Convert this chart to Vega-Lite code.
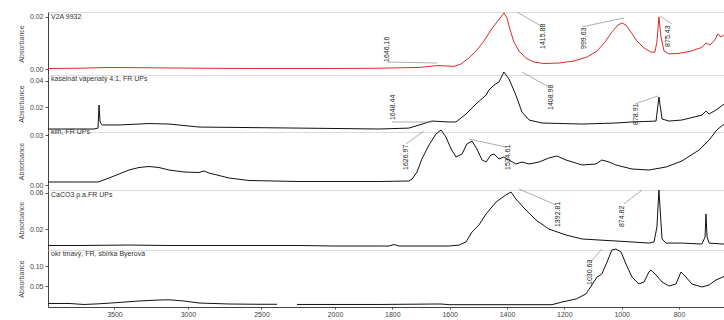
{
  "$schema": "https://vega.github.io/schema/vega-lite/v6.json",
  "padding": {"left": 16, "top": 10, "right": 0, "bottom": 0},
  "background": "white",
  "bounds": "flush",
  "spacing": 0,
  "datasets": {
    "s1": [
      {"wn": 3950, "a": 0.0002}, {"wn": 3741, "a": 0.0003}, {"wn": 3537, "a": 0.0006}, {"wn": 3333, "a": 0.0005},
      {"wn": 3129, "a": 0.0004}, {"wn": 2925, "a": 0.0003}, {"wn": 2585, "a": 0.0002}, {"wn": 2245, "a": 0.0002},
      {"wn": 2000, "a": 0.0002}, {"wn": 1847, "a": 0.0003}, {"wn": 1707, "a": 0.0006}, {"wn": 1644, "a": 0.0013},
      {"wn": 1613, "a": 0.0012}, {"wn": 1585, "a": 0.0010}, {"wn": 1561, "a": 0.0019}, {"wn": 1533, "a": 0.0042},
      {"wn": 1505, "a": 0.0073}, {"wn": 1480, "a": 0.0108}, {"wn": 1456, "a": 0.0150}, {"wn": 1435, "a": 0.0181},
      {"wn": 1421, "a": 0.0200}, {"wn": 1411, "a": 0.0215}, {"wn": 1400, "a": 0.0196}, {"wn": 1390, "a": 0.0154},
      {"wn": 1376, "a": 0.0104}, {"wn": 1358, "a": 0.0069}, {"wn": 1334, "a": 0.0042}, {"wn": 1306, "a": 0.0027},
      {"wn": 1271, "a": 0.0021}, {"wn": 1219, "a": 0.0023}, {"wn": 1166, "a": 0.0031}, {"wn": 1121, "a": 0.0046},
      {"wn": 1086, "a": 0.0069}, {"wn": 1058, "a": 0.0104}, {"wn": 1034, "a": 0.0142}, {"wn": 1013, "a": 0.0169},
      {"wn": 999, "a": 0.0177}, {"wn": 985, "a": 0.0169}, {"wn": 968, "a": 0.0142}, {"wn": 947, "a": 0.0108},
      {"wn": 922, "a": 0.0081}, {"wn": 898, "a": 0.0065}, {"wn": 884, "a": 0.0065}, {"wn": 877, "a": 0.0104},
      {"wn": 870, "a": 0.0200}, {"wn": 863, "a": 0.0123}, {"wn": 852, "a": 0.0069}, {"wn": 835, "a": 0.0058},
      {"wn": 800, "a": 0.0060}, {"wn": 758, "a": 0.0069}, {"wn": 720, "a": 0.0083}, {"wn": 706, "a": 0.0100},
      {"wn": 692, "a": 0.0092}, {"wn": 675, "a": 0.0112}, {"wn": 664, "a": 0.0135}, {"wn": 654, "a": 0.0123},
      {"wn": 643, "a": 0.0131}
    ],
    "s2": [
      {"wn": 3950, "a": 0.0031}, {"wn": 3741, "a": 0.0031}, {"wn": 3639, "a": 0.0031}, {"wn": 3612, "a": 0.0038},
      {"wn": 3605, "a": 0.0215}, {"wn": 3598, "a": 0.0085}, {"wn": 3584, "a": 0.0062}, {"wn": 3469, "a": 0.0062},
      {"wn": 3265, "a": 0.0073}, {"wn": 3129, "a": 0.0069}, {"wn": 2993, "a": 0.0054}, {"wn": 2925, "a": 0.0046},
      {"wn": 2585, "a": 0.0042}, {"wn": 2245, "a": 0.0038}, {"wn": 2000, "a": 0.0035}, {"wn": 1847, "a": 0.0031},
      {"wn": 1742, "a": 0.0038}, {"wn": 1662, "a": 0.0092}, {"wn": 1602, "a": 0.0085}, {"wn": 1578, "a": 0.0085},
      {"wn": 1543, "a": 0.0146}, {"wn": 1508, "a": 0.0223}, {"wn": 1473, "a": 0.0292}, {"wn": 1463, "a": 0.0331},
      {"wn": 1445, "a": 0.0369}, {"wn": 1428, "a": 0.0392}, {"wn": 1411, "a": 0.0469}, {"wn": 1393, "a": 0.0415},
      {"wn": 1369, "a": 0.0292}, {"wn": 1348, "a": 0.0162}, {"wn": 1323, "a": 0.0100}, {"wn": 1278, "a": 0.0077},
      {"wn": 1138, "a": 0.0069}, {"wn": 1020, "a": 0.0077}, {"wn": 964, "a": 0.0085}, {"wn": 880, "a": 0.0092},
      {"wn": 870, "a": 0.0277}, {"wn": 859, "a": 0.0108}, {"wn": 835, "a": 0.0092}, {"wn": 790, "a": 0.0100},
      {"wn": 720, "a": 0.0138}, {"wn": 706, "a": 0.0169}, {"wn": 695, "a": 0.0146}, {"wn": 671, "a": 0.0177},
      {"wn": 647, "a": 0.0215}, {"wn": 643, "a": 0.0222}
    ],
    "s3": [
      {"wn": 3950, "a": 0.0018}, {"wn": 3741, "a": 0.0018}, {"wn": 3612, "a": 0.0018}, {"wn": 3537, "a": 0.0042},
      {"wn": 3469, "a": 0.0066}, {"wn": 3401, "a": 0.0090}, {"wn": 3333, "a": 0.0105}, {"wn": 3265, "a": 0.0111},
      {"wn": 3197, "a": 0.0105}, {"wn": 3129, "a": 0.0090}, {"wn": 3027, "a": 0.0078}, {"wn": 2925, "a": 0.0075},
      {"wn": 2891, "a": 0.0084}, {"wn": 2857, "a": 0.0072}, {"wn": 2721, "a": 0.0042}, {"wn": 2585, "a": 0.0027},
      {"wn": 2245, "a": 0.0021}, {"wn": 2000, "a": 0.0021}, {"wn": 1847, "a": 0.0021}, {"wn": 1742, "a": 0.0024},
      {"wn": 1731, "a": 0.0036}, {"wn": 1714, "a": 0.0078}, {"wn": 1697, "a": 0.0156}, {"wn": 1672, "a": 0.0240},
      {"wn": 1648, "a": 0.0306}, {"wn": 1630, "a": 0.0330}, {"wn": 1613, "a": 0.0288}, {"wn": 1595, "a": 0.0216},
      {"wn": 1578, "a": 0.0168}, {"wn": 1557, "a": 0.0186}, {"wn": 1540, "a": 0.0246}, {"wn": 1522, "a": 0.0264},
      {"wn": 1505, "a": 0.0216}, {"wn": 1487, "a": 0.0150}, {"wn": 1473, "a": 0.0138}, {"wn": 1456, "a": 0.0180},
      {"wn": 1445, "a": 0.0186}, {"wn": 1428, "a": 0.0156}, {"wn": 1411, "a": 0.0168}, {"wn": 1393, "a": 0.0150},
      {"wn": 1369, "a": 0.0126}, {"wn": 1348, "a": 0.0138}, {"wn": 1323, "a": 0.0126}, {"wn": 1288, "a": 0.0138},
      {"wn": 1254, "a": 0.0162}, {"wn": 1226, "a": 0.0174}, {"wn": 1194, "a": 0.0150}, {"wn": 1138, "a": 0.0120},
      {"wn": 1090, "a": 0.0126}, {"wn": 1069, "a": 0.0150}, {"wn": 1044, "a": 0.0138}, {"wn": 1020, "a": 0.0120},
      {"wn": 964, "a": 0.0096}, {"wn": 905, "a": 0.0090}, {"wn": 845, "a": 0.0108}, {"wn": 790, "a": 0.0144},
      {"wn": 730, "a": 0.0210}, {"wn": 695, "a": 0.0270}, {"wn": 668, "a": 0.0330}, {"wn": 647, "a": 0.0360},
      {"wn": 643, "a": 0.0364}
    ],
    "s4": [
      {"wn": 3950, "a": 0.0017}, {"wn": 3741, "a": 0.0017}, {"wn": 3401, "a": 0.0022}, {"wn": 3129, "a": 0.0017},
      {"wn": 2925, "a": 0.0017}, {"wn": 2585, "a": 0.0017}, {"wn": 2245, "a": 0.0017}, {"wn": 2000, "a": 0.0011},
      {"wn": 1847, "a": 0.0011}, {"wn": 1812, "a": 0.0011}, {"wn": 1794, "a": 0.0028}, {"wn": 1777, "a": 0.0011},
      {"wn": 1602, "a": 0.0011}, {"wn": 1567, "a": 0.0022}, {"wn": 1543, "a": 0.0056}, {"wn": 1522, "a": 0.0167},
      {"wn": 1498, "a": 0.0244}, {"wn": 1473, "a": 0.0367}, {"wn": 1438, "a": 0.0500}, {"wn": 1404, "a": 0.0578},
      {"wn": 1386, "a": 0.0611}, {"wn": 1369, "a": 0.0533}, {"wn": 1334, "a": 0.0411}, {"wn": 1299, "a": 0.0300},
      {"wn": 1254, "a": 0.0200}, {"wn": 1194, "a": 0.0133}, {"wn": 1138, "a": 0.0089}, {"wn": 1079, "a": 0.0078},
      {"wn": 1020, "a": 0.0067}, {"wn": 964, "a": 0.0056}, {"wn": 905, "a": 0.0044}, {"wn": 887, "a": 0.0056},
      {"wn": 877, "a": 0.0222}, {"wn": 870, "a": 0.0633}, {"wn": 863, "a": 0.0278}, {"wn": 859, "a": 0.0089},
      {"wn": 845, "a": 0.0044}, {"wn": 790, "a": 0.0044}, {"wn": 720, "a": 0.0033}, {"wn": 709, "a": 0.0111},
      {"wn": 706, "a": 0.0367}, {"wn": 702, "a": 0.0111}, {"wn": 695, "a": 0.0044}, {"wn": 647, "a": 0.0033},
      {"wn": 643, "a": 0.0033}
    ],
    "s5": [
      {"wn": 3950, "a": 0.0063, "seg": "a"}, {"wn": 3809, "a": 0.0063, "seg": "a"}, {"wn": 3707, "a": 0.0038, "seg": "a"},
      {"wn": 3605, "a": 0.0055, "seg": "a"}, {"wn": 3469, "a": 0.0088, "seg": "a"}, {"wn": 3333, "a": 0.0125, "seg": "a"},
      {"wn": 3197, "a": 0.0150, "seg": "a"}, {"wn": 3129, "a": 0.0155, "seg": "a"}, {"wn": 3027, "a": 0.0125, "seg": "a"},
      {"wn": 2925, "a": 0.0075, "seg": "a"}, {"wn": 2721, "a": 0.0050, "seg": "a"}, {"wn": 2517, "a": 0.0043, "seg": "a"},
      {"wn": 2394, "a": 0.0043, "seg": "a"},
      {"wn": 2258, "a": 0.0038, "seg": "b"}, {"wn": 2000, "a": 0.0038, "seg": "b"}, {"wn": 1847, "a": 0.0038, "seg": "b"},
      {"wn": 1648, "a": 0.0050, "seg": "b"}, {"wn": 1630, "a": 0.0050, "seg": "b"}, {"wn": 1602, "a": 0.0033, "seg": "b"},
      {"wn": 1400, "a": 0.0033, "seg": "b"}, {"wn": 1243, "a": 0.0033, "seg": "b"}, {"wn": 1208, "a": 0.0100, "seg": "b"},
      {"wn": 1159, "a": 0.0175, "seg": "b"}, {"wn": 1125, "a": 0.0300, "seg": "b"}, {"wn": 1104, "a": 0.0525, "seg": "b"},
      {"wn": 1086, "a": 0.0725, "seg": "b"}, {"wn": 1069, "a": 0.0800, "seg": "b"}, {"wn": 1051, "a": 0.1100, "seg": "b"},
      {"wn": 1034, "a": 0.1400, "seg": "b"}, {"wn": 1020, "a": 0.1425, "seg": "b"}, {"wn": 1002, "a": 0.1350, "seg": "b"},
      {"wn": 985, "a": 0.1050, "seg": "b"}, {"wn": 964, "a": 0.0725, "seg": "b"}, {"wn": 940, "a": 0.0550, "seg": "b"},
      {"wn": 922, "a": 0.0600, "seg": "b"}, {"wn": 905, "a": 0.0850, "seg": "b"}, {"wn": 898, "a": 0.0900, "seg": "b"},
      {"wn": 880, "a": 0.0775, "seg": "b"}, {"wn": 859, "a": 0.0600, "seg": "b"}, {"wn": 835, "a": 0.0500, "seg": "b"},
      {"wn": 811, "a": 0.0550, "seg": "b"}, {"wn": 793, "a": 0.0850, "seg": "b"}, {"wn": 776, "a": 0.0725, "seg": "b"},
      {"wn": 755, "a": 0.0550, "seg": "b"}, {"wn": 720, "a": 0.0475, "seg": "b"}, {"wn": 695, "a": 0.0525, "seg": "b"},
      {"wn": 671, "a": 0.0650, "seg": "b"}, {"wn": 647, "a": 0.0725, "seg": "b"}, {"wn": 643, "a": 0.0735, "seg": "b"}
    ],
    "ann": [
      {"p": 1, "label": "1646.16", "tx": 1819, "ty": 0.0027, "x1": 1819, "y1": 0.0027, "x2": 1644, "y2": 0.0023},
      {"p": 1, "label": "1415.88", "tx": 1274, "ty": 0.0077, "x1": 1365, "y1": 0.0219, "x2": 1281, "y2": 0.0165},
      {"p": 1, "label": "999.63", "tx": 1131, "ty": 0.0077, "x1": 1138, "y1": 0.0162, "x2": 992, "y2": 0.0196},
      {"p": 1, "label": "875.43", "tx": 838, "ty": 0.0085, "x1": 866, "y1": 0.0204, "x2": 825, "y2": 0.0173},
      {"p": 2, "label": "1648.44", "tx": 1798, "ty": 0.0100, "x1": 1801, "y1": 0.0085, "x2": 1662, "y2": 0.0085},
      {"p": 2, "label": "1408.98", "tx": 1247, "ty": 0.0177, "x1": 1348, "y1": 0.0469, "x2": 1254, "y2": 0.0354},
      {"p": 2, "label": "878.91", "tx": 950, "ty": 0.0062, "x1": 954, "y1": 0.0223, "x2": 873, "y2": 0.0285},
      {"p": 3, "label": "1626.97", "tx": 1752, "ty": 0.0090, "x1": 1752, "y1": 0.0246, "x2": 1690, "y2": 0.0324},
      {"p": 3, "label": "1534.61", "tx": 1397, "ty": 0.0090, "x1": 1533, "y1": 0.0276, "x2": 1404, "y2": 0.0228},
      {"p": 4, "label": "1392.81", "tx": 1222, "ty": 0.0222, "x1": 1358, "y1": 0.0644, "x2": 1229, "y2": 0.0467},
      {"p": 4, "label": "874.82", "tx": 999, "ty": 0.0222, "x1": 992, "y1": 0.0478, "x2": 929, "y2": 0.0633},
      {"p": 5, "label": "1030.63", "tx": 1111, "ty": 0.0525, "x1": 1114, "y1": 0.105, "x2": 1069, "y2": 0.1425}
    ]
  },
  "vconcat": [
    {
      "width": 676, "height": 63,
      "title": {"text": "V2A 9932", "offset": -9},
      "layer": [
        {"data": {"name": "s1"}, "mark": {"type": "line", "color": "#dd2a2a", "strokeWidth": 1},
         "encoding": {
           "x": {"field": "wn", "type": "quantitative", "scale": {"domain": [3952, 2000, 643], "range": [0, 287, 676], "nice": false, "zero": false}, "axis": null},
           "y": {"field": "a", "type": "quantitative", "scale": {"domain": [-0.0023, 0.0219], "nice": false, "zero": false}, "axis": {"title": "Absorbance", "values": [0, 0.01, 0.02], "format": ".2f"}}}},
        {"data": {"name": "ann"}, "transform": [{"filter": "datum.p == 1"}], "mark": {"type": "rule", "color": "#8a8a8a", "strokeWidth": 0.7},
         "encoding": {"x": {"field": "x1", "type": "quantitative"}, "x2": {"field": "x2"}, "y": {"field": "y1", "type": "quantitative"}, "y2": {"field": "y2"}}},
        {"data": {"name": "ann"}, "transform": [{"filter": "datum.p == 1"}], "mark": {"type": "text", "angle": 270, "align": "left", "baseline": "middle", "fontSize": 7, "color": "#222"},
         "encoding": {"x": {"field": "tx", "type": "quantitative"}, "y": {"field": "ty", "type": "quantitative"}, "text": {"field": "label"}}}
      ]
    },
    {
      "width": 676, "height": 57,
      "title": {"text": "kaseinát vápenatý 4:1, FR UPs", "offset": -12},
      "layer": [
        {"data": {"name": "s2"}, "mark": {"type": "line", "color": "#111", "strokeWidth": 1},
         "encoding": {
           "x": {"field": "wn", "type": "quantitative", "scale": {"domain": [3952, 2000, 643], "range": [0, 287, 676], "nice": false, "zero": false}, "axis": null},
           "y": {"field": "a", "type": "quantitative", "scale": {"domain": [0.0008, 0.0446], "nice": false, "zero": false}, "axis": {"title": "Absorbance", "values": [0.02, 0.04], "format": ".2f"}}}},
        {"data": {"name": "ann"}, "transform": [{"filter": "datum.p == 2"}], "mark": {"type": "rule", "color": "#8a8a8a", "strokeWidth": 0.7},
         "encoding": {"x": {"field": "x1", "type": "quantitative"}, "x2": {"field": "x2"}, "y": {"field": "y1", "type": "quantitative"}, "y2": {"field": "y2"}}},
        {"data": {"name": "ann"}, "transform": [{"filter": "datum.p == 2"}], "mark": {"type": "text", "angle": 270, "align": "left", "baseline": "middle", "fontSize": 7, "color": "#222"},
         "encoding": {"x": {"field": "tx", "type": "quantitative"}, "y": {"field": "ty", "type": "quantitative"}, "text": {"field": "label"}}}
      ]
    },
    {
      "width": 676, "height": 58,
      "title": {"text": "klih, FR UPs", "offset": -13},
      "layer": [
        {"data": {"name": "s3"}, "mark": {"type": "line", "color": "#111", "strokeWidth": 1},
         "encoding": {
           "x": {"field": "wn", "type": "quantitative", "scale": {"domain": [3952, 2000, 643], "range": [0, 287, 676], "nice": false, "zero": false}, "axis": null},
           "y": {"field": "a", "type": "quantitative", "scale": {"domain": [-0.003, 0.0318], "nice": false, "zero": false}, "axis": {"title": "Absorbance", "values": [0, 0.01, 0.02, 0.03], "format": ".2f"}}}},
        {"data": {"name": "ann"}, "transform": [{"filter": "datum.p == 3"}], "mark": {"type": "rule", "color": "#8a8a8a", "strokeWidth": 0.7},
         "encoding": {"x": {"field": "x1", "type": "quantitative"}, "x2": {"field": "x2"}, "y": {"field": "y1", "type": "quantitative"}, "y2": {"field": "y2"}}},
        {"data": {"name": "ann"}, "transform": [{"filter": "datum.p == 3"}], "mark": {"type": "text", "angle": 270, "align": "left", "baseline": "middle", "fontSize": 7, "color": "#222"},
         "encoding": {"x": {"field": "tx", "type": "quantitative"}, "y": {"field": "ty", "type": "quantitative"}, "text": {"field": "label"}}}
      ]
    },
    {
      "width": 676, "height": 60,
      "title": {"text": "CaCO3 p.a.FR UPs", "offset": -10},
      "layer": [
        {"data": {"name": "s4"}, "mark": {"type": "line", "color": "#111", "strokeWidth": 1},
         "encoding": {
           "x": {"field": "wn", "type": "quantitative", "scale": {"domain": [3952, 2000, 643], "range": [0, 287, 676], "nice": false, "zero": false}, "axis": null},
           "y": {"field": "a", "type": "quantitative", "scale": {"domain": [-0.0033, 0.0633], "nice": false, "zero": false}, "axis": {"title": "Absorbance", "values": [0.02, 0.04, 0.06], "format": ".2f"}}}},
        {"data": {"name": "ann"}, "transform": [{"filter": "datum.p == 4"}], "mark": {"type": "rule", "color": "#8a8a8a", "strokeWidth": 0.7},
         "encoding": {"x": {"field": "x1", "type": "quantitative"}, "x2": {"field": "x2"}, "y": {"field": "y1", "type": "quantitative"}, "y2": {"field": "y2"}}},
        {"data": {"name": "ann"}, "transform": [{"filter": "datum.p == 4"}], "mark": {"type": "text", "angle": 270, "align": "left", "baseline": "middle", "fontSize": 7, "color": "#222"},
         "encoding": {"x": {"field": "tx", "type": "quantitative"}, "y": {"field": "ty", "type": "quantitative"}, "text": {"field": "label"}}}
      ]
    },
    {
      "width": 676, "height": 57,
      "title": {"text": "okr tmavý, FR, sbírka Byerová", "offset": -10},
      "layer": [
        {"data": {"name": "s5"}, "mark": {"type": "line", "color": "#111", "strokeWidth": 1},
         "encoding": {
           "x": {"field": "wn", "type": "quantitative", "scale": {"domain": [3952, 2000, 643], "range": [0, 287, 676], "nice": false, "zero": false},
                 "axis": {"title": "Wavenumbers (cm-1)", "values": [3500, 3000, 2500, 2000, 1800, 1600, 1400, 1200, 1000, 800], "format": "d", "tickSize": 2, "labelPadding": 1, "titlePadding": 1}},
           "y": {"field": "a", "type": "quantitative", "scale": {"domain": [-0.0025, 0.14], "nice": false, "zero": false}, "axis": {"title": "Absorbance", "values": [0.05, 0.1], "format": ".2f"}},
           "detail": {"field": "seg"}}},
        {"data": {"name": "ann"}, "transform": [{"filter": "datum.p == 5"}], "mark": {"type": "rule", "color": "#8a8a8a", "strokeWidth": 0.7},
         "encoding": {"x": {"field": "x1", "type": "quantitative"}, "x2": {"field": "x2"}, "y": {"field": "y1", "type": "quantitative"}, "y2": {"field": "y2"}}},
        {"data": {"name": "ann"}, "transform": [{"filter": "datum.p == 5"}], "mark": {"type": "text", "angle": 270, "align": "left", "baseline": "middle", "fontSize": 7, "color": "#222"},
         "encoding": {"x": {"field": "tx", "type": "quantitative"}, "y": {"field": "ty", "type": "quantitative"}, "text": {"field": "label"}}}
      ]
    }
  ],
  "config": {
    "font": "Liberation Sans",
    "view": {"stroke": "#dcdcdc"},
    "axis": {"labelFontSize": 7, "labelColor": "#444", "titleFontSize": 7, "titleFontWeight": "normal", "titleColor": "#444", "tickSize": 3, "tickColor": "#555", "domainColor": "#444", "grid": false, "labelPadding": 2},
    "axisY": {"titlePadding": 5},
    "title": {"fontSize": 7, "fontWeight": "normal", "color": "#333", "anchor": "start", "frame": "group", "orient": "top", "dx": 3}
  }
}
